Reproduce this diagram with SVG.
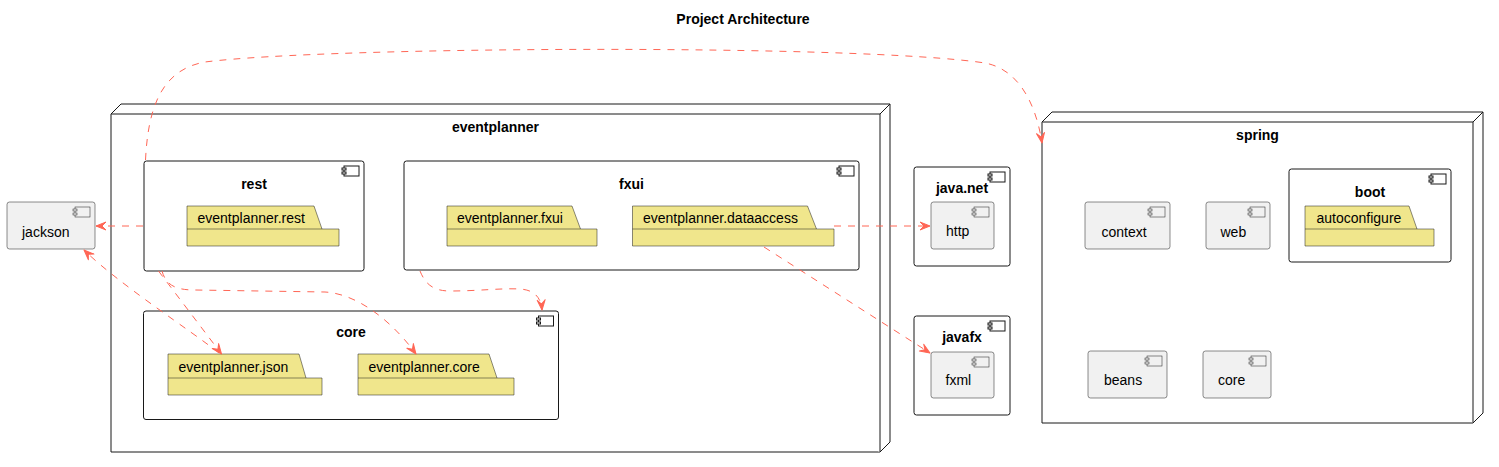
<svg xmlns="http://www.w3.org/2000/svg" width="1499" height="467" viewBox="0 0 1499 467">
<defs>
<marker id="arr" markerUnits="userSpaceOnUse" markerWidth="12" markerHeight="10" refX="10" refY="4" orient="auto" overflow="visible">
<path d="M0,0 L10,4 L0,8 L4,4 Z" fill="#FF6655" stroke="#FF6655" stroke-width="1" stroke-linejoin="round"/>
</marker>
</defs>
<style>
text{font-family:"Liberation Sans",Arial,sans-serif;fill:#000}
.t{font-size:14px}
.b{font-size:14px;font-weight:bold;text-anchor:middle}
.node{fill:#fff;stroke:#181818;stroke-width:1}
.cont{fill:#fff;stroke:#181818;stroke-width:1}
.comp{fill:#F1F1F1;stroke:#181818;stroke-width:0.5}
.pkg{fill:#F0E68C;stroke:#181818;stroke-width:0.5;stroke-linejoin:round}
.ic{fill:#fff;stroke:#181818;stroke-width:1}
.ics{fill:#F1F1F1;stroke:#181818;stroke-width:0.5}
.c{fill:none;stroke:#FF6655;stroke-width:1;stroke-dasharray:7,7;marker-end:url(#arr)}
</style>
<rect width="1499" height="467" fill="#fff"/>
<text class="b" x="743" y="24">Project Architecture</text>

<g id="eventplanner">
<path class="node" d="M111,114 L121,104 L890,104 L890,442 L880,452 L111,452 Z"/>
<path class="node" fill="none" d="M111,114 L880,114 L880,452 M880,114 L890,104"/>
<text class="b" x="495.5" y="132">eventplanner</text>
</g>

<g id="rest">
<rect class="cont" x="144" y="161" width="220" height="110" rx="2.5"/>
<rect class="ic" x="344" y="166" width="15" height="10"/><rect class="ic" x="342" y="168" width="4" height="2"/><rect class="ic" x="342" y="172" width="4" height="2"/>
<text class="b" x="254" y="189">rest</text>
</g>
<g id="pkg-rest">
<path class="pkg" d="M187,206 L314,206 L322,229 L339,229 L339,246 L187,246 Z M187,229 L322,229"/>
<text class="t" x="197.5" y="222.7">eventplanner.rest</text>
</g>

<g id="fxui">
<rect class="cont" x="404" y="161" width="455" height="109" rx="2.5"/>
<rect class="ic" x="839" y="166" width="15" height="10"/><rect class="ic" x="837" y="168" width="4" height="2"/><rect class="ic" x="837" y="172" width="4" height="2"/>
<text class="b" x="631.5" y="189">fxui</text>
</g>
<g id="pkg-fxui">
<path class="pkg" d="M447,206 L572,206 L580.5,229 L597,229 L597,246 L447,246 Z M447,229 L580.5,229"/>
<text class="t" x="457" y="222.7">eventplanner.fxui</text>
</g>
<g id="pkg-dataaccess">
<path class="pkg" d="M632.5,206 L807.5,206 L816.5,229 L834,229 L834,246 L632.5,246 Z M632.5,229 L816.5,229"/>
<text class="t" x="643" y="222.7">eventplanner.dataaccess</text>
</g>

<g id="core">
<rect class="cont" x="143.5" y="311" width="415" height="108.5" rx="2.5"/>
<rect class="ic" x="538.5" y="316" width="15" height="10"/><rect class="ic" x="536.5" y="318" width="4" height="2"/><rect class="ic" x="536.5" y="322" width="4" height="2"/>
<text class="b" x="351" y="337">core</text>
</g>
<g id="pkg-json">
<path class="pkg" d="M168,354 L299,354 L306,378 L322,378 L322,395 L168,395 Z M168,378 L306,378"/>
<text class="t" x="178.5" y="372">eventplanner.json</text>
</g>
<g id="pkg-core">
<path class="pkg" d="M358,354 L489,354 L497,378 L514,378 L514,395 L358,395 Z M358,378 L497,378"/>
<text class="t" x="368.5" y="372">eventplanner.core</text>
</g>

<g id="jackson">
<rect class="comp" x="7" y="202" width="88" height="47" rx="2.5"/>
<rect class="ics" x="75" y="207" width="15" height="10"/><rect class="ics" x="73" y="209" width="4" height="2"/><rect class="ics" x="73" y="213" width="4" height="2"/>
<text class="t" x="22" y="237">jackson</text>
</g>

<g id="java.net">
<rect class="cont" x="914" y="167" width="96" height="99" rx="2.5"/>
<rect class="ic" x="990" y="172" width="15" height="10"/><rect class="ic" x="988" y="174" width="4" height="2"/><rect class="ic" x="988" y="178" width="4" height="2"/>
<text class="b" x="962" y="193">java.net</text>
</g>
<g id="http">
<rect class="comp" x="931" y="202" width="63" height="47" rx="2.5"/>
<rect class="ics" x="974" y="207" width="15" height="10"/><rect class="ics" x="972" y="209" width="4" height="2"/><rect class="ics" x="972" y="213" width="4" height="2"/>
<text class="t" x="946" y="236">http</text>
</g>

<g id="javafx">
<rect class="cont" x="914" y="316" width="96" height="99" rx="2.5"/>
<rect class="ic" x="990" y="321" width="15" height="10"/><rect class="ic" x="988" y="323" width="4" height="2"/><rect class="ic" x="988" y="327" width="4" height="2"/>
<text class="b" x="962" y="342">javafx</text>
</g>
<g id="fxml">
<rect class="comp" x="931" y="352" width="63" height="46" rx="2.5"/>
<rect class="ics" x="974" y="357" width="15" height="10"/><rect class="ics" x="972" y="359" width="4" height="2"/><rect class="ics" x="972" y="363" width="4" height="2"/>
<text class="t" x="945.5" y="385">fxml</text>
</g>

<g id="spring">
<path class="node" d="M1042,122 L1052,112 L1483,112 L1483,413 L1473,423 L1042,423 Z"/>
<path class="node" fill="none" d="M1042,122 L1473,122 L1473,423 M1473,122 L1483,112"/>
<text class="b" x="1257.5" y="140">spring</text>
</g>
<g id="context">
<rect class="comp" x="1085" y="202" width="85" height="47" rx="2.5"/>
<rect class="ics" x="1150" y="207" width="15" height="10"/><rect class="ics" x="1148" y="209" width="4" height="2"/><rect class="ics" x="1148" y="213" width="4" height="2"/>
<text class="t" x="1101.5" y="237">context</text>
</g>
<g id="web">
<rect class="comp" x="1206" y="202" width="64" height="47" rx="2.5"/>
<rect class="ics" x="1250" y="207" width="15" height="10"/><rect class="ics" x="1248" y="209" width="4" height="2"/><rect class="ics" x="1248" y="213" width="4" height="2"/>
<text class="t" x="1220.5" y="237">web</text>
</g>
<g id="boot">
<rect class="cont" x="1289" y="169" width="162" height="93" rx="2.5"/>
<rect class="ic" x="1431" y="174" width="15" height="10"/><rect class="ic" x="1429" y="176" width="4" height="2"/><rect class="ic" x="1429" y="180" width="4" height="2"/>
<text class="b" x="1370" y="197">boot</text>
</g>
<g id="pkg-autoconfigure">
<path class="pkg" d="M1305,206 L1409,206 L1417,229 L1434,229 L1434,246 L1305,246 Z M1305,229 L1417,229"/>
<text class="t" x="1316.5" y="222.7">autoconfigure</text>
</g>
<g id="beans">
<rect class="comp" x="1088" y="351" width="79" height="47" rx="2.5"/>
<rect class="ics" x="1147" y="356" width="15" height="10"/><rect class="ics" x="1145" y="358" width="4" height="2"/><rect class="ics" x="1145" y="362" width="4" height="2"/>
<text class="t" x="1104" y="385">beans</text>
</g>
<g id="spring-core">
<rect class="comp" x="1203" y="351" width="68" height="47" rx="2.5"/>
<rect class="ics" x="1251" y="356" width="15" height="10"/><rect class="ics" x="1249" y="358" width="4" height="2"/><rect class="ics" x="1249" y="362" width="4" height="2"/>
<text class="t" x="1218" y="385">core</text>
</g>

<g id="connectors">
<path class="c" d="M143,226 L96,226"/>
<path class="c" d="M145.5,160 C148,110 160,70 205,62 C330,46 860,44 985,63 C1022,70 1037,110 1042,143"/>
<path class="c" d="M158.5,271 L221.5,354"/>
<path class="c" d="M219,353 C190,330 120,285 84,250"/>
<path class="c" d="M162,271 C166,285 175,290 195,290 L325,292 C360,294 395,325 416,354"/>
<path class="c" d="M420,271 C425,283 432,291 450,291 C480,291 500,288 520,289 C535,290 541,298 542,310"/>
<path class="c" d="M834,226 L930,226"/>
<path class="c" d="M764,247 L930,353"/>
</g>
</svg>
